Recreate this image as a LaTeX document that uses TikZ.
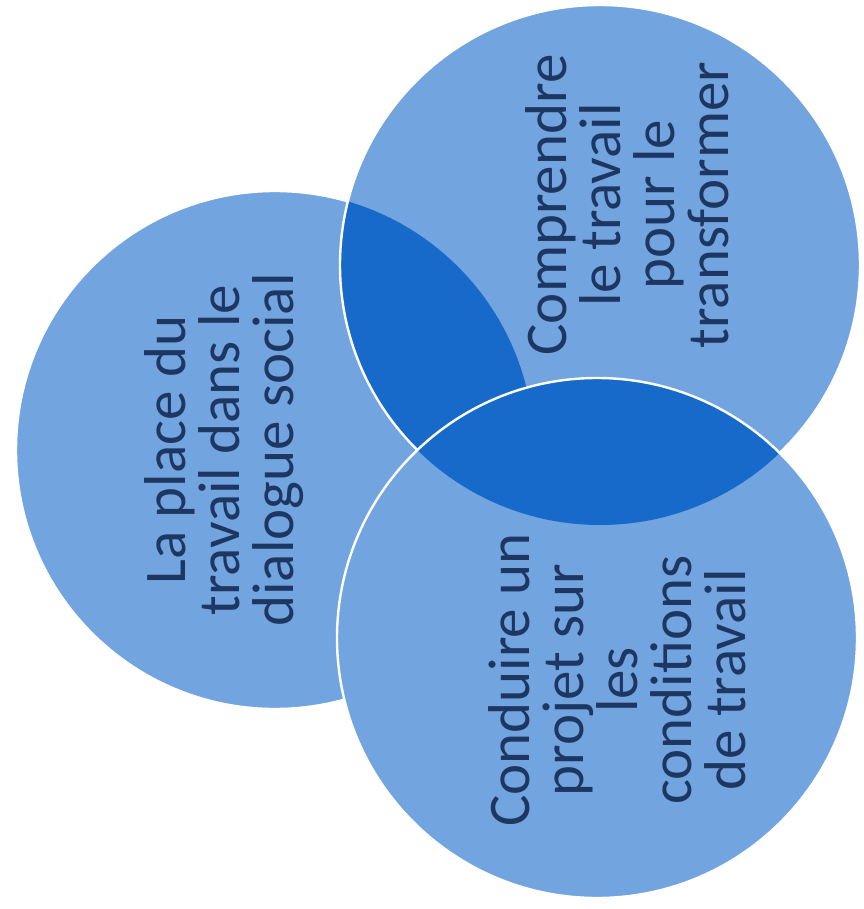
\documentclass[tikz,border=0pt]{standalone}
\usepackage{fontspec}
\setmainfont{Carlito}
\definecolor{lightfill}{RGB}{114,164,224}
\definecolor{darkfill}{RGB}{24,106,202}
\definecolor{txt}{RGB}{30,55,98}
\begin{document}
\begin{tikzpicture}[x=1pt,y=-1pt,
  disc/.style={fill=lightfill},
  rim/.style={draw=white,line width=2.4pt},
  lbl/.style={rotate=90,align=center,text=txt,inner sep=0pt,
    font=\fontsize{59}{54}\selectfont}]
\useasboundingbox[fill=white] (0,0) rectangle (863,909);
\coordinate (L) at (275,450);
\coordinate (T) at (600,265);
\coordinate (B) at (597,638);
% left circle
\path[disc,rim] (L) circle (259);
% top-right circle
\path[disc] (T) circle (260);
\begin{scope}
  \clip (T) circle (260);
  \fill[darkfill] (L) circle (259);
\end{scope}
\path[rim] (T) circle (260);
% bottom-right circle
\path[disc] (B) circle (260);
\begin{scope}
  \clip (B) circle (260);
  \fill[darkfill] (T) circle (260);
\end{scope}
\path[rim] (B) circle (260);
% labels
\node[lbl] (tl) at (224,450) {La place du\\travail dans le\\dialogue social};
\node[lbl] (tt) at (627,205) {Comprendre\\le travail\\pour le\\transformer};
\node[lbl] (tb) at (617,680) {Conduire un\\projet sur\\les\\conditions\\de travail};
\end{tikzpicture}
\end{document}
